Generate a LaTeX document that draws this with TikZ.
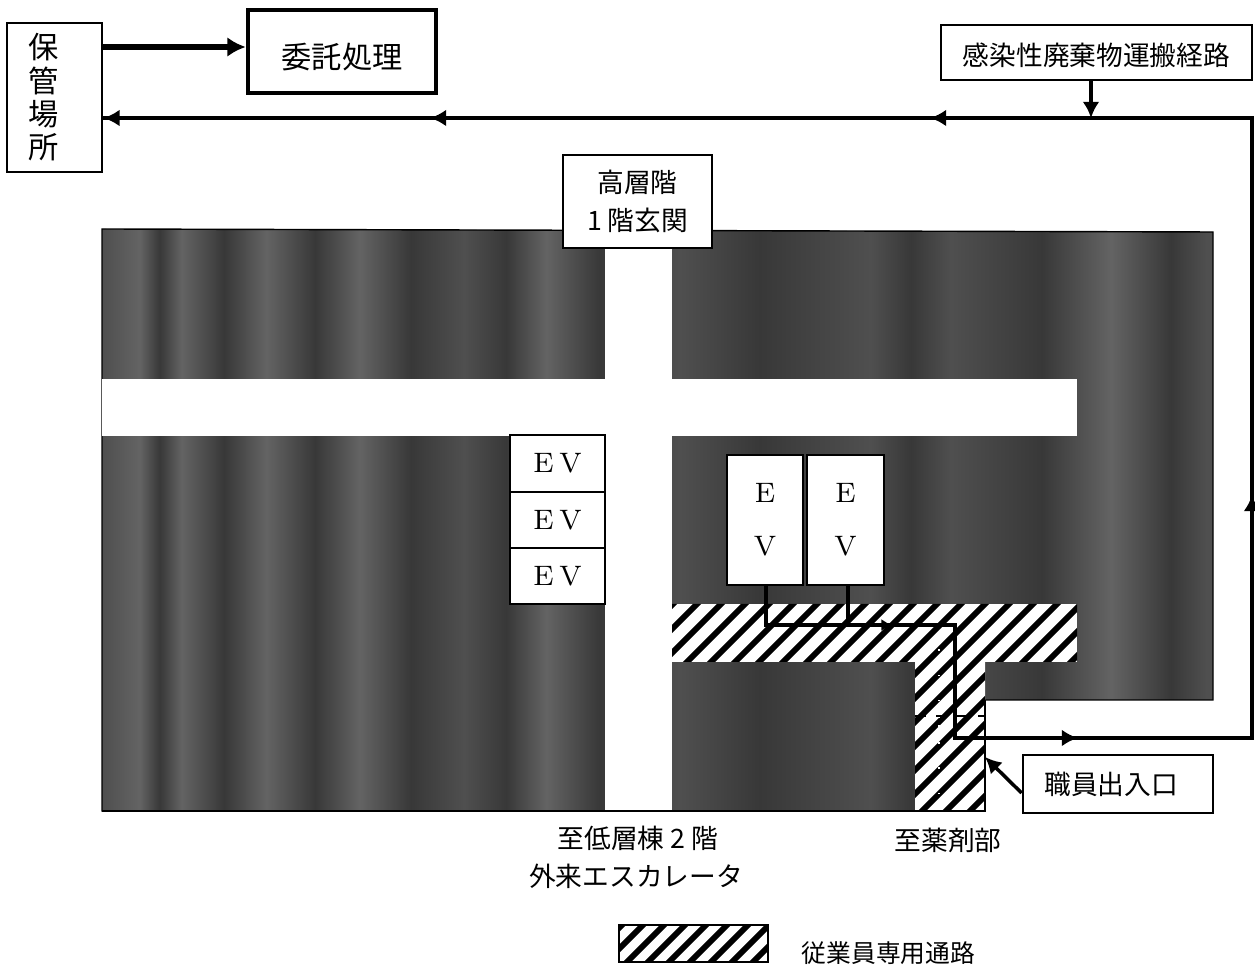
\documentclass[tikz,border=0pt]{standalone}
\usepackage{fontspec}
\newfontfamily\cjk{Noto Sans CJK JP}
\usetikzlibrary{arrows.meta}
\definecolor{banda}{gray}{0.22}
\definecolor{bandb}{gray}{0.31}
\definecolor{bandc}{gray}{0.39}
\pgfdeclarehorizontalshading{darkbands}{100bp}{color(0bp)=(bandb);color(25bp)=(bandb);
color(26.7bp)=(bandc);color(27.6bp)=(banda);color(28.6bp)=(bandc);color(30.5bp)=(banda);color(32.4bp)=(bandc);
color(34.6bp)=(banda);color(36.6bp)=(bandc);color(38.9bp)=(banda);color(41.3bp)=(bandb);color(43.2bp)=(banda);
color(45bp)=(bandc);color(47.4bp)=(banda);color(51bp)=(bandb);color(54.6bp)=(banda);color(59.6bp)=(bandb);
color(61.4bp)=(banda);color(63.2bp)=(bandb);color(67.3bp)=(banda);color(70.4bp)=(bandc);color(73.1bp)=(banda);
color(74.7bp)=(bandb);color(100bp)=(bandb)}
\tikzset{
	plainbox/.style={draw,fill=white,line width=0.8pt,inner sep=0pt,font=\cjk\fontsize{7.6}{11}\selectfont,align=center},
	evbox/.style={draw,fill=white,line width=0.5pt,inner sep=0pt,font=\fontsize{8}{11}\selectfont,align=center},
	plainlabel/.style={inner sep=0pt,font=\cjk\fontsize{7.6}{11}\selectfont},
	route/.style={line width=1pt,>={Latex[length=4.6pt,width=4.8pt]}},
	staffway/.style={line width=1.7pt,black}
}
\begin{document}
\begin{tikzpicture}
	\useasboundingbox (0,0) rectangle (12.55,9.67);
	\shadedraw[shading=darkbands,line width=0.4pt] (1.02,7.38) -- (12.13,7.35) -- (12.13,2.67) -- (9.85,2.67) -- (9.85,1.56) -- (1.02,1.56) -- cycle;
	\fill[white] (6.05,1.57) rectangle (6.72,7.38);
	\fill[white] (1.02,5.88) rectangle (10.77,5.31);
	% hatched way
	\begin{scope}
		\clip (6.72,3.63) -- (10.77,3.63) -- (10.77,3.05) -- (9.85,3.05) -- (9.85,1.56) -- (9.15,1.56) -- (9.15,3.05) -- (6.72,3.05) -- cycle;
		\fill[white] (6.72,1.56) rectangle (10.77,3.63);
		\foreach \i in {4.6,4.84,...,10.8}
			\draw[staffway] (\i,1.5) -- ++(2.2,2.2);
		\draw[white,dotted,line width=0.4pt] (9.39,1.56) -- (9.39,3.2);
		\draw[black,dashed,line width=0.3pt] (9.15,2.51) -- (9.85,2.51);
	\end{scope}
	\draw[line width=0.4pt] (9.85,2.67) -- (9.85,1.56) -- (1.02,1.56);
	% boxes
	\node[plainbox,minimum width=0.95cm,minimum height=1.49cm,font=\cjk\fontsize{8.6}{9.5}\selectfont] (hokan) at (0.545,8.695) {\makebox[0.52cm][l]{保}\\\makebox[0.52cm][l]{管}\\\makebox[0.52cm][l]{場}\\\makebox[0.52cm][l]{所}};
	\node[plainbox,line width=1.3pt,minimum width=1.88cm,minimum height=0.83cm,font=\cjk\fontsize{8.6}{11}\selectfont] (itaku) at (3.42,9.155) {\raisebox{-0.06cm}[\height][\depth]{委託処理}};
	\node[plainbox,minimum width=3.11cm,minimum height=0.55cm] (keiro) at (10.965,9.145) {\raisebox{-0.03cm}[\height][\depth]{感染性廃棄物運搬経路}};
	\node[plainbox,minimum width=1.49cm,minimum height=0.93cm] (genkan) at (6.375,7.655) {高層階\\1 階玄関};
	\node[evbox,minimum width=0.95cm,minimum height=0.565cm] (evl1) at (5.575,5.035) {E\hspace{0.2em}V};
	\node[evbox,minimum width=0.95cm,minimum height=0.565cm] (evl2) at (5.575,4.47) {E\hspace{0.2em}V};
	\node[evbox,minimum width=0.95cm,minimum height=0.565cm] (evl3) at (5.575,3.91) {E\hspace{0.2em}V};
	\node[evbox,minimum width=0.76cm,minimum height=1.30cm,font=\fontsize{8}{15}\selectfont] (evr1) at (7.65,4.47) {E\\V};
	\node[evbox,minimum width=0.77cm,minimum height=1.30cm,font=\fontsize{8}{15}\selectfont] (evr2) at (8.455,4.47) {E\\V};
	\node[plainbox,minimum width=1.90cm,minimum height=0.58cm] (shokuin) at (11.18,1.83) {\makebox[1.47cm][l]{職員出入口}};
	% labels
	\node[plainlabel] (teisou) at (6.38,1.29) {至低層棟 2 階};
	\node[plainlabel] (gairai) at (6.36,0.91) {外来エスカレータ};
	\node[plainlabel] (yakuzai) at (9.48,1.27) {至薬剤部};
	\node[plainlabel,font=\cjk\fontsize{7.05}{11}\selectfont] (senyou) at (8.885,0.14) {従業員専用通路};
	% legend
	\begin{scope}
		\clip (6.19,0.05) rectangle (7.68,0.42);
		\fill[white] (6.19,0.05) rectangle (7.68,0.42);
		\foreach \i in {5.8,6.01,...,7.7}
			\draw[staffway] (\i,0) -- ++(0.5,0.5);
	\end{scope}
	\node[draw,line width=0.8pt,minimum width=1.49cm,minimum height=0.37cm,inner sep=0pt] (legend) at (6.935,0.235) {};
	% route
	\coordinate (itakuin) at (2.48,9.20);
	\coordinate (topright) at (12.52,8.49);
	\coordinate (joint) at (10.91,8.49);
	\coordinate (tipa) at (9.30,8.49);
	\coordinate (tipb) at (4.30,8.49);
	\coordinate (downa) at (7.66,3.42);
	\coordinate (downb) at (8.48,3.42);
	\coordinate (tipe) at (8.92,3.42);
	\coordinate (turna) at (9.55,3.42);
	\coordinate (turnb) at (9.55,2.29);
	\coordinate (tipc) at (10.78,2.29);
	\coordinate (lowright) at (12.52,2.29);
	\coordinate (tipd) at (12.52,4.72);
	\coordinate (door) at (9.85,2.10);
	\draw[-{Latex[length=5.2pt,width=5.6pt]},line width=1.9pt] (hokan.east |- itakuin) -- (itaku.west |- itakuin);
	\draw[route] (evr1.south -| downa) -- (downa) -- (turna) -- (turnb) -- (lowright) -- (topright) -- (hokan.east |- topright);
	\draw[route] (evr2.south -| downb) -- (downb);
	\draw[route,->] (topright) -- (tipa);
	\draw[route,->] (tipa) -- (tipb);
	\draw[route,->] (tipb) -- (hokan.east |- tipb);
	\draw[route,->] (keiro.south -| joint) -- (joint);
	\draw[line width=1pt,-{Latex[length=3pt,width=3.4pt]}] (downb) -- (tipe);
	\draw[route,->] (turnb) -- (tipc);
	\draw[route,->] (lowright) -- (tipd);
	\draw[route,->] (shokuin.west |- 0,1.74) -- (door);
\end{tikzpicture}
\end{document}
